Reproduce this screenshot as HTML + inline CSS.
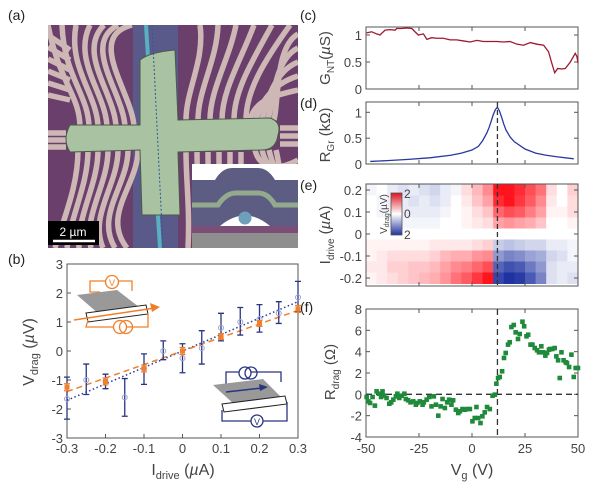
<!DOCTYPE html>
<html><head><meta charset="utf-8">
<style>
html,body{margin:0;padding:0;background:#fff;}
svg{display:block;font-family:"Liberation Sans",sans-serif;}
.t{font-size:13px;fill:#444;}
.lab{font-size:14px;fill:#222;}
.ax{fill:none;stroke:#555;stroke-width:1;}
</style></head><body>
<svg id="fig" width="601" height="501" viewBox="0 0 601 501">
<!-- Panel labels -->
<text x="8" y="20" class="lab">(a)</text>
<text x="8" y="264" class="lab">(b)</text>
<text x="300" y="20" class="lab">(c)</text>
<text x="300" y="108" class="lab">(d)</text>
<text x="300" y="190" class="lab">(e)</text>
<text x="300" y="312" class="lab">(f)</text>

<!-- Panel (a) micrograph -->
<g id="micro">
<clipPath id="mclip"><rect x="48" y="25" width="250" height="223"/></clipPath>
<g clip-path="url(#mclip)">
<rect x="48" y="25" width="250" height="223" fill="#6a3f6c"/>
<rect x="133" y="25" width="45" height="223" fill="#5a5a8a"/>
<line x1="146" y1="25" x2="160" y2="248" stroke="#58b0c0" stroke-width="4"/>
<g id="fingers" fill="none" stroke="#cdb8b6" stroke-width="5.5"></g>
<path d="M140 60 Q150 52 175 50 L178 120 L270 118 Q282 122 278 135 Q276 150 262 150 L178 152 L180 215 L142 215 L140 150 L70 152 Q62 140 70 125 L140 125 Z" fill="#a9c3a2" stroke="#4a5a4a" stroke-width="1"/>
<line x1="152" y1="25" x2="163" y2="248" stroke="#2a5a9a" stroke-width="1" stroke-dasharray="2,2"/>
</g>
<rect x="48" y="221" width="51" height="24" fill="#000"/>
<text x="73" y="236" text-anchor="middle" font-size="12" fill="#fff">2 µm</text>
<line x1="53" y1="241" x2="95" y2="241" stroke="#fff" stroke-width="2.5"/>
<g>
<rect x="192" y="164" width="106" height="84" fill="#fff"/>
<path d="M192 180 L215 180 Q222 168 232 168 L258 168 Q268 168 275 180 L298 180 L298 226 L192 226 Z" fill="#5d5d84"/>
<path d="M192 205 L218 205 Q226 193 236 193 L258 193 Q268 193 275 205 L298 205" fill="none" stroke="#93ab8c" stroke-width="5"/>
<path d="M220 226 Q245 205 270 226 Z" fill="#fff"/>
<circle cx="245" cy="218" r="6.5" fill="#6e9fbb"/>
<rect x="192" y="226" width="106" height="7" fill="#7b4e78"/>
<rect x="192" y="233" width="106" height="15" fill="#8e8e8e"/>
</g>
</g>

<!-- Panel (b) -->
<g id="pb"></g>
<!-- Panel (c) -->
<g id="pc"></g>
<!-- Panel (d) -->
<g id="pd"></g>
<!-- Panel (e) -->
<g id="pe"></g>
<!-- Panel (f) -->
<g id="pf"></g>
</svg>
<script>
// ---- Panel (b) data ----
const bCurr = [-0.3,-0.25,-0.2,-0.15,-0.1,-0.05,0,0.05,0.1,0.15,0.2,0.25,0.3];
const bBlueV = [-1.65,-1.0,-1.05,-1.6,-0.6,0.0,-0.25,0.1,0.8,1.0,1.1,1.3,1.85];
const bBlueHi = [-0.9,-0.45,-0.8,-0.95,-0.1,0.35,0.25,0.7,1.3,1.5,1.6,1.7,2.4];
const bBlueLo = [-2.35,-1.5,-1.3,-2.25,-1.15,-0.3,-0.75,-0.45,0.35,0.55,0.65,0.95,1.35];
const bOrgCurr = [-0.3,-0.2,-0.1,0,0.1,0.2,0.3];
const bOrgV = [-1.25,-1.05,-0.6,0.0,0.5,0.95,1.45];
const bOrgErr = [0.12,0.12,0.12,0.12,0.1,0.1,0.12];
const bBlueFit = [-1.7,1.7];
const bOrgFit = [-1.4,1.4];
const bXTicks = [-0.3,-0.2,-0.1,0,0.1,0.2,0.3];
const bYTicks = [-3,-2,-1,0,1,2,3];
// ---- Panel (c) data ----
const cVg = [-49.7,-47.3,-45,-43.4,-41,-38.7,-36.3,-35.5,-33.2,-30.8,-28.4,-26.9,-25.3,-22.9,-21.3,-19,-16.6,-13.5,-10.3,-7.2,-4,-0.9,2.3,5.4,8.6,11.7,14.9,18,21.2,24.3,27.5,30.6,33.8,36.1,37.7,39,40.4,42.4,44,46.4,48.7,49.5,50];
const cG = [1.04,1.06,1.02,1.0,1.09,1.1,1.09,1.12,1.12,1.13,1.12,1.06,1.0,1.02,0.92,0.95,0.94,0.94,0.91,0.91,0.89,0.87,0.9,0.88,0.88,0.88,0.87,0.88,0.83,0.81,0.86,0.83,0.81,0.69,0.47,0.3,0.38,0.37,0.38,0.5,0.66,0.6,0.48];
const cYTicks = [0,0.5,1];
// ---- Panel (d) data ----
const dVg = [-48,-40,-30,-20,-10,-5,0,3,5,7,8,9,10,11,12,13,14,15,16,18,20,25,30,35,40,48];
const dR = [0.05,0.065,0.09,0.12,0.17,0.21,0.27,0.34,0.45,0.6,0.7,0.82,0.95,1.05,1.1,1.02,0.9,0.77,0.66,0.52,0.43,0.29,0.21,0.17,0.14,0.1];
const dYTicks = [0,0.5,1];
// ---- Panel (e) data ----
const eVgEdges = [-50,-45,-40,-35,-30,-25,-20,-15,-10,-5,0,5,10,15,20,25,30,35,40,45,50];
const eCurr = [0.2,0.15,0.1,0.05,0,-0.05,-0.1,-0.15,-0.2];
const eRow0 = [-0.1,0,-0.2,-0.3,-0.2,-0.3,-0.4,-0.2,-0.1,0.3,0.6,1.0,2.0,2.0,1.8,1.5,1.2,0.3,0,0.4];
const eRow1 = [0,-0.1,-0.2,-0.2,-0.3,-0.2,-0.3,-0.2,0,0.2,0.5,0.8,1.8,2.0,1.7,1.4,1.0,0.2,0,0.3];
const eRow2 = [0,-0.1,-0.1,-0.2,-0.2,-0.2,-0.2,-0.1,0,0.1,0.3,0.5,1.3,1.5,1.4,1.1,0.8,0.1,0.1,0.3];
const eRow3 = [0,0,-0.1,-0.1,-0.1,-0.1,-0.1,0,0,0.1,0.2,0.3,0.8,0.9,0.8,0.7,0.5,0,0,0.1];
const eRow4 = [0,0,0,0,0,0,0,0,0,0,0,0,0,0,0,0,0,0,0,0];
const eRow5 = [0.1,0.1,0.1,0.1,0.1,0.1,0.2,0.2,0.2,0.2,0.3,0.4,-0.5,-0.6,-0.5,-0.4,-0.4,-0.2,-0.2,-0.1];
const eRow6 = [0.1,0.2,0.3,0.3,0.3,0.3,0.4,0.6,0.7,0.7,0.9,1.0,-1.0,-1.2,-1.1,-0.9,-0.8,-0.4,-0.3,-0.1];
const eRow7 = [0.2,0.2,0.4,0.4,0.5,0.5,0.6,0.8,1.0,1.1,1.3,1.5,-1.5,-1.7,-1.6,-1.3,-1.0,-0.3,-0.2,-0.2];
const eRow8 = [0.1,0.2,0.3,0.4,0.5,0.6,0.7,0.9,1.2,1.4,1.7,2.0,-1.8,-2.0,-1.9,-1.6,-1.2,-0.3,-0.2,-0.3];
const eYTicks = [-0.2,-0.1,0,0.1,0.2];
// ---- Panel (f) data ----
const fVg = [-49.7,-48.9,-48.1,-46.9,-45.8,-45,-43.9,-42.9,-42.2,-41.5,-40.3,-39,-38.1,-37.1,-35.9,-35.2,-34.3,-33.2,-31.9,-31.2,-30.1,-29,-27.7,-26.5,-25.8,-24.6,-23.3,-22.7,-21.4,-20.2,-19.1,-18,-17,-15.9,-14.8,-13.9,-12.8,-11.7,-10.8,-9.7,-8.9,-7.6,-6.5,-5.7,-4.5,-3.4,-2.3,-1,0.2,1.3,2.1,2.9,4,4.9,6,7.1,8.4,9.7,10.8,11.5,12.3,13.1,14.2,15.1,15.9,17,17.8,18.6,19.7,20.6,21.7,22.5,23.8,24.6,25.7,26.5,27.6,28.5,29.6,30.7,31.6,32.7,33.5,34.6,35.4,36.3,36.9,37.9,39,39.8,40.6,41.4,42.2,43.2,44.2,44.8,45.8,46.9,48,48.9,50];
const fR = [-0.25,-0.66,-0.81,-0.25,-1.06,0.28,0.06,-0.25,0.28,-0.13,-0.34,-0.88,-0.75,-0.5,-0.19,0.06,-0.34,-0.13,0.06,-0.44,-0.56,-0.75,-0.66,-0.97,-0.81,-0.66,-0.97,-0.75,-0.5,-0.25,-1.13,-0.19,-0.97,-2.0,-1.13,-0.44,-1.28,-0.75,-0.5,-0.97,-0.56,-1.44,-1.75,-1.59,-1.38,-1.44,-1.38,-1.38,-2.53,-2.22,-1.19,-2.22,-2.69,-2.06,-1.69,-1.19,-1.38,-0.13,-0.03,1.0,1.53,1.63,2.16,3.41,3.88,4.66,4.88,6.31,6.5,5.81,5.19,5.66,6.81,6.38,5.44,5.59,4.66,4.66,4.34,4.13,3.94,4.5,3.94,3.63,3.88,4.19,4.25,4.25,4.34,3.56,3.19,1.53,3.94,3.19,3.0,2.94,2.56,3.72,1.63,2.47,2.47];
const fYTicks = [-4,-2,0,2,4,6,8];
const vgTicks = [-50,-25,0,25,50];
const cnp = 12;

const NS = "http://www.w3.org/2000/svg";
function mk(parent, tag, attrs, text){
  const e = document.createElementNS(NS, tag);
  for (const k in attrs) e.setAttribute(k, attrs[k]);
  if (text !== undefined) e.textContent = text;
  parent.appendChild(e);
  return e;
}

// micrograph fingers (decorative)
(function(){
  const g = document.getElementById('fingers');
  const paths = [];
  for (let i=0;i<7;i++){ const xa=80+i*9; paths.push(`M${xa} 128 C${xa} 95 ${60+i*4} ${85-i*8} ${48+i*14} ${25-0}`); }
  for (let i=0;i<6;i++){ const xa=186+i*12; paths.push(`M${xa} 120 C${xa} 90 ${205+i*12} 60 ${200+i*18} 25`); }
  for (let i=0;i<5;i++){ paths.push(`M${250+i*6} 120 C${255+i*6} 100 ${275} ${95-i*12} ${298} ${90-i*14}`); }
  for (let i=0;i<7;i++){ const xa=78+i*10; paths.push(`M${xa} 150 C${xa} 185 ${65+i*6} 215 ${55+i*12} 248`); }
  for (let i=0;i<6;i++){ paths.push(`M${70} ${100-i*10} L48 ${95-i*12}`); }
  for (let i=0;i<3;i++){ paths.push(`M48 ${133+i*7} L66 ${133+i*7}`); paths.push(`M280 ${128+i*8} L298 ${128+i*8}`); }
  for (let i=0;i<6;i++){ const xa=186+i*11; paths.push(`M${xa} 152 C${xa} 180 ${190+i*10} 210 ${188+i*10} 248`); }
  for (let i=0;i<4;i++){ paths.push(`M${255+i*7} 150 C${260+i*7} 170 ${280} ${170+i*8} 298 ${160+i*6}`); }
  paths.forEach(d=>{ const p = mk(g,'path',{d});
    
     });
})();

// ---- Panel (b) ----
(function(){
  const g = document.getElementById('pb');
  const X0=67,X1=298,Y0=264,Y1=438;
  const x = v => X0+(v+0.3)/0.6*(X1-X0);
  const y = v => Y1-(v+3)/6*(Y1-Y0);
  let r = mk(g,'rect',{x:X0,y:Y0,width:X1-X0,height:Y1-Y0,class:'ax'});
   
  bXTicks.forEach(t=>{ mk(g,'line',{x1:x(t),x2:x(t),y1:Y1,y2:Y1-4,stroke:'#555'});
    const tx = mk(g,'text',{x:x(t),y:Y1+15,'text-anchor':'middle',class:'t'},String(t));
      });
  bYTicks.forEach(t=>{ mk(g,'line',{x1:X0,x2:X0+4,y1:y(t),y2:y(t),stroke:'#555'});
    const tx = mk(g,'text',{x:X0-4,y:y(t)+5,'text-anchor':'end',class:'t'},String(t));
      });
  // orange inset
  const oi = mk(g,'g',{});
   
  mk(oi,'path',{d:'M100 292 L90 292 L90 281 L132 281 L132 291',fill:'none',stroke:'#f07f2a','stroke-width':1.3});
  mk(oi,'circle',{cx:112,cy:282,r:6.5,fill:'#fff',stroke:'#f07f2a','stroke-width':1.3});
  mk(oi,'text',{x:112,y:286,'text-anchor':'middle','font-size':'9',fill:'#f07f2a'},'V');
  mk(oi,'polygon',{points:'77,295 117,290 143,310 100,315',fill:'#999'});
  mk(oi,'path',{d:'M86 313 L146 305 L148 314 L88 322 Z',fill:'#fff',stroke:'#222','stroke-width':1});
  mk(oi,'line',{x1:74,y1:320,x2:155,y2:308,stroke:'#f07f2a','stroke-width':1.5});
  mk(oi,'polygon',{points:'160,307 150,303 152,312',fill:'#f07f2a'});
  mk(oi,'path',{d:'M88 320 L86 327 L148 327 L148 313',fill:'none',stroke:'#f07f2a','stroke-width':1.3});
  mk(oi,'circle',{cx:120,cy:327,r:6.5,fill:'#fff',stroke:'#f07f2a','stroke-width':1.3});
  mk(oi,'circle',{cx:126,cy:327,r:6.5,fill:'none',stroke:'#f07f2a','stroke-width':1.3});
  // blue inset
  const bi = mk(g,'g',{});
   
  mk(bi,'path',{d:'M226 385 L226 372 L281 372 L281 382',fill:'none',stroke:'#2a3580','stroke-width':1.3});
  mk(bi,'circle',{cx:245,cy:373,r:6,fill:'#fff',stroke:'#2a3580','stroke-width':1.3});
  mk(bi,'circle',{cx:251,cy:373,r:6,fill:'none',stroke:'#2a3580','stroke-width':1.3});
  mk(bi,'polygon',{points:'213,385 263,379 283,399 235,405',fill:'#999'});
  mk(bi,'line',{x1:226,y1:392,x2:262,y2:388,stroke:'#2a3580','stroke-width':1.5});
  mk(bi,'polygon',{points:'268,387 259,384 260,391',fill:'#2a3580'});
  mk(bi,'path',{d:'M222 404 L285 396 L287 404 L224 412 Z',fill:'#fff',stroke:'#222','stroke-width':1});
  mk(bi,'path',{d:'M222 410 L222 421 L287 421 L287 402',fill:'none',stroke:'#2a3580','stroke-width':1.3});
  mk(bi,'circle',{cx:257,cy:421,r:6,fill:'#fff',stroke:'#2a3580','stroke-width':1.3});
  mk(bi,'text',{x:257,y:425,'text-anchor':'middle','font-size':'9',fill:'#2a3580'},'V');
  // fits
  let f1 = mk(g,'line',{x1:x(-0.3),y1:y(bBlueFit[0]),x2:x(0.3),y2:y(bBlueFit[1]),stroke:'#2a3a9a','stroke-width':1.5,'stroke-dasharray':'1.5,2.5'});
   
  let f2 = mk(g,'line',{x1:x(-0.3),y1:y(bOrgFit[0]),x2:x(0.3),y2:y(bOrgFit[1]),stroke:'#f08030','stroke-width':1.5,'stroke-dasharray':'6,4'});
   
  bCurr.forEach((c,i)=>{
    const e = mk(g,'path',{d:`M${x(c)} ${y(bBlueHi[i])} V${y(bBlueLo[i])} M${x(c)-3} ${y(bBlueHi[i])} h6 M${x(c)-3} ${y(bBlueLo[i])} h6`,stroke:'#2a3580','stroke-width':1.3,fill:'none'});
     
    const p = mk(g,'circle',{cx:x(c),cy:y(bBlueV[i]),r:2.5,fill:'none',stroke:'#9aa4d4','stroke-width':1});
     
  });
  bOrgCurr.forEach((c,i)=>{
    const e = mk(g,'path',{d:`M${x(c)} ${y(bOrgV[i]+bOrgErr[i])} V${y(bOrgV[i]-bOrgErr[i])} M${x(c)-3} ${y(bOrgV[i]+bOrgErr[i])} h6 M${x(c)-3} ${y(bOrgV[i]-bOrgErr[i])} h6`,stroke:'#f08030','stroke-width':1.2,fill:'none'});
     
    const p = mk(g,'rect',{x:x(c)-2.5,y:y(bOrgV[i])-2.5,width:5,height:5,fill:'#f08030'});
     
  });
  const yl = mk(g,'text',{transform:'translate(34 352) rotate(-90)','text-anchor':'middle','font-size':'16',fill:'#444'});
  yl.innerHTML = 'V<tspan font-size="11" dy="4">drag</tspan><tspan dy="-4"> (</tspan><tspan font-style="italic">µ</tspan>V)';
   
  const xl = mk(g,'text',{x:183,y:475,'text-anchor':'middle','font-size':'16',fill:'#444'});
  xl.innerHTML = 'I<tspan font-size="11" dy="4">drive</tspan><tspan dy="-4"> (</tspan><tspan font-style="italic">µ</tspan>A)';
   
})();

// shared Vg axis
const VX0=366, VX1=578;
const xv = v => VX0+(v+50)/100*(VX1-VX0);

function frame(g, Y0, Y1, yfn, ticks, name, fmt, labels){
  const r = mk(g,'rect',{x:VX0,y:Y0,width:VX1-VX0,height:Y1-Y0,class:'ax'});
   
  vgTicks.forEach(t=>{ mk(g,'line',{x1:xv(t),x2:xv(t),y1:Y1,y2:Y1-4,stroke:'#555'}); mk(g,'line',{x1:xv(t),x2:xv(t),y1:Y0,y2:Y0+4,stroke:'#555'});
    if(labels){ const tx = mk(g,'text',{x:xv(t),y:Y1+16,'text-anchor':'middle',class:'t'},String(t));
        } });
  ticks.forEach(t=>{ mk(g,'line',{x1:VX0,x2:VX0+4,y1:yfn(t),y2:yfn(t),stroke:'#555'}); mk(g,'line',{x1:VX1,x2:VX1-4,y1:yfn(t),y2:yfn(t),stroke:'#555'});
    const tx = mk(g,'text',{x:VX0-4,y:yfn(t)+5,'text-anchor':'end',class:'t'},fmt(t));
      });
}
function ytitle(g, cx, cy, html, name){
  const t = mk(g,'text',{transform:`translate(${cx} ${cy}) rotate(-90)`,'text-anchor':'middle','font-size':'15',fill:'#444'});
  t.innerHTML = html;
   
}

// ---- Panel (c) ----
(function(){
  const g = document.getElementById('pc');
  const yc = v => 89 - v*54;
  frame(g,27,89,yc,cYTicks,'plot-frame-c',String,false);
  const pl = mk(g,'polyline',{points:cVg.map((v,i)=>xv(v)+','+yc(cG[i])).join(' '),fill:'none',stroke:'#a0182e','stroke-width':1.3});
   
  ytitle(g,330,58,'G<tspan font-size="10" dy="4">NT</tspan><tspan dy="-4">(</tspan><tspan font-style="italic">µ</tspan>S)','y-axis-title-c');
})();
// ---- Panel (d) ----
(function(){
  const g = document.getElementById('pd');
  const yd = v => 164 - v*51.7;
  frame(g,102,164,yd,dYTicks,'plot-frame-d',String,false);
  const pl = mk(g,'polyline',{points:dVg.map((v,i)=>xv(v)+','+yd(dR[i])).join(' '),fill:'none',stroke:'#2838a0','stroke-width':1.3});
   
  const dl = mk(g,'line',{x1:xv(cnp),x2:xv(cnp),y1:102,y2:164,stroke:'#333','stroke-width':1.3,'stroke-dasharray':'5,3'});
   
  ytitle(g,330,135,'R<tspan font-size="10" dy="4">Gr</tspan><tspan dy="-4"> (kΩ)</tspan>','y-axis-title-d');
})();
// ---- Panel (e) ----
(function(){
  const g = document.getElementById('pe');
  const ye = v => 234 - v*220;
  const rows = [eRow0,eRow1,eRow2,eRow3,eRow4,eRow5,eRow6,eRow7,eRow8];
  function col(v){ const a=Math.min(1,Math.abs(v)/2);
    if(v>=0) return `rgb(255,${Math.round(255-235*a)},${Math.round(255-225*a)})`;
    return `rgb(${Math.round(255-225*a)},${Math.round(255-205*a)},${Math.round(255-95*a)})`; }
  const cg = mk(g,'g',{});
  rows.forEach((row,ri)=>{ row.forEach((val,ci)=>{
    const c = mk(cg,'rect',{x:xv(eVgEdges[ci]),y:ye(eCurr[ri]+0.025),width:xv(eVgEdges[ci+1])-xv(eVgEdges[ci])+0.5,height:ye(eCurr[ri]-0.025)-ye(eCurr[ri]+0.025)+0.5,fill:col(val)});
      }); });
  frame(g,184,286,ye,eYTicks,'plot-frame-e',t=>String(t),false);
  const dl = mk(g,'line',{x1:xv(cnp),x2:xv(cnp),y1:184,y2:286,stroke:'#333','stroke-width':1.3,'stroke-dasharray':'5,3'});
   
  // colorbar
  const defs = mk(g,'defs',{});
  const lg = mk(defs,'linearGradient',{id:'cb',x1:0,y1:0,x2:0,y2:1});
  mk(lg,'stop',{offset:'0',"stop-color":'#dc1420'}); mk(lg,'stop',{offset:'0.5',"stop-color":'#fff'}); mk(lg,'stop',{offset:'1',"stop-color":'#1e32a0'});
  const cb = mk(g,'rect',{x:391,y:193,width:11,height:42,fill:'url(#cb)',stroke:'#555','stroke-width':0.8});
   
  [['2',198],['0',218],['2',239]].forEach(a=>{ const t=mk(g,'text',{x:404,y:a[1],'font-size':'12',fill:'#444'},a[0]);
      });
  const ct = mk(g,'text',{transform:'translate(387 214) rotate(-90)','text-anchor':'middle','font-size':'10',fill:'#444'});
  ct.innerHTML='V<tspan font-size="7" dy="2">drag</tspan><tspan dy="-2">(µV)</tspan>';
   
  ytitle(g,330,235,'I<tspan font-size="10" dy="4">drive</tspan><tspan dy="-4"> (</tspan><tspan font-style="italic">µ</tspan>A)','y-axis-title-e');
})();
// ---- Panel (f) ----
(function(){
  const g = document.getElementById('pf');
  const yf = v => 437 - (v+4)*128/12;
  frame(g,309,437,yf,fYTicks,'plot-frame-f',String,true);
  const h = mk(g,'line',{x1:VX0,x2:VX1,y1:yf(0),y2:yf(0),stroke:'#333','stroke-width':1.3,'stroke-dasharray':'6,4'});
   
  const dl = mk(g,'line',{x1:xv(cnp),x2:xv(cnp),y1:309,y2:437,stroke:'#333','stroke-width':1.3,'stroke-dasharray':'6,4'});
   
  fVg.forEach((v,i)=>{ const p = mk(g,'rect',{x:xv(v)-2.3,y:yf(fR[i])-2.3,width:4.6,height:4.6,fill:'#1e8a3a'});
      });
  ytitle(g,335,372,'R<tspan font-size="10" dy="4">drag</tspan><tspan dy="-4"> (Ω)</tspan>','y-axis-title-f');
  const xl = mk(g,'text',{x:472,y:475,'text-anchor':'middle','font-size':'16',fill:'#444'});
  xl.innerHTML='V<tspan font-size="11" dy="4">g</tspan><tspan dy="-4"> (V)</tspan>';
   
})();
</script>
</body></html>
